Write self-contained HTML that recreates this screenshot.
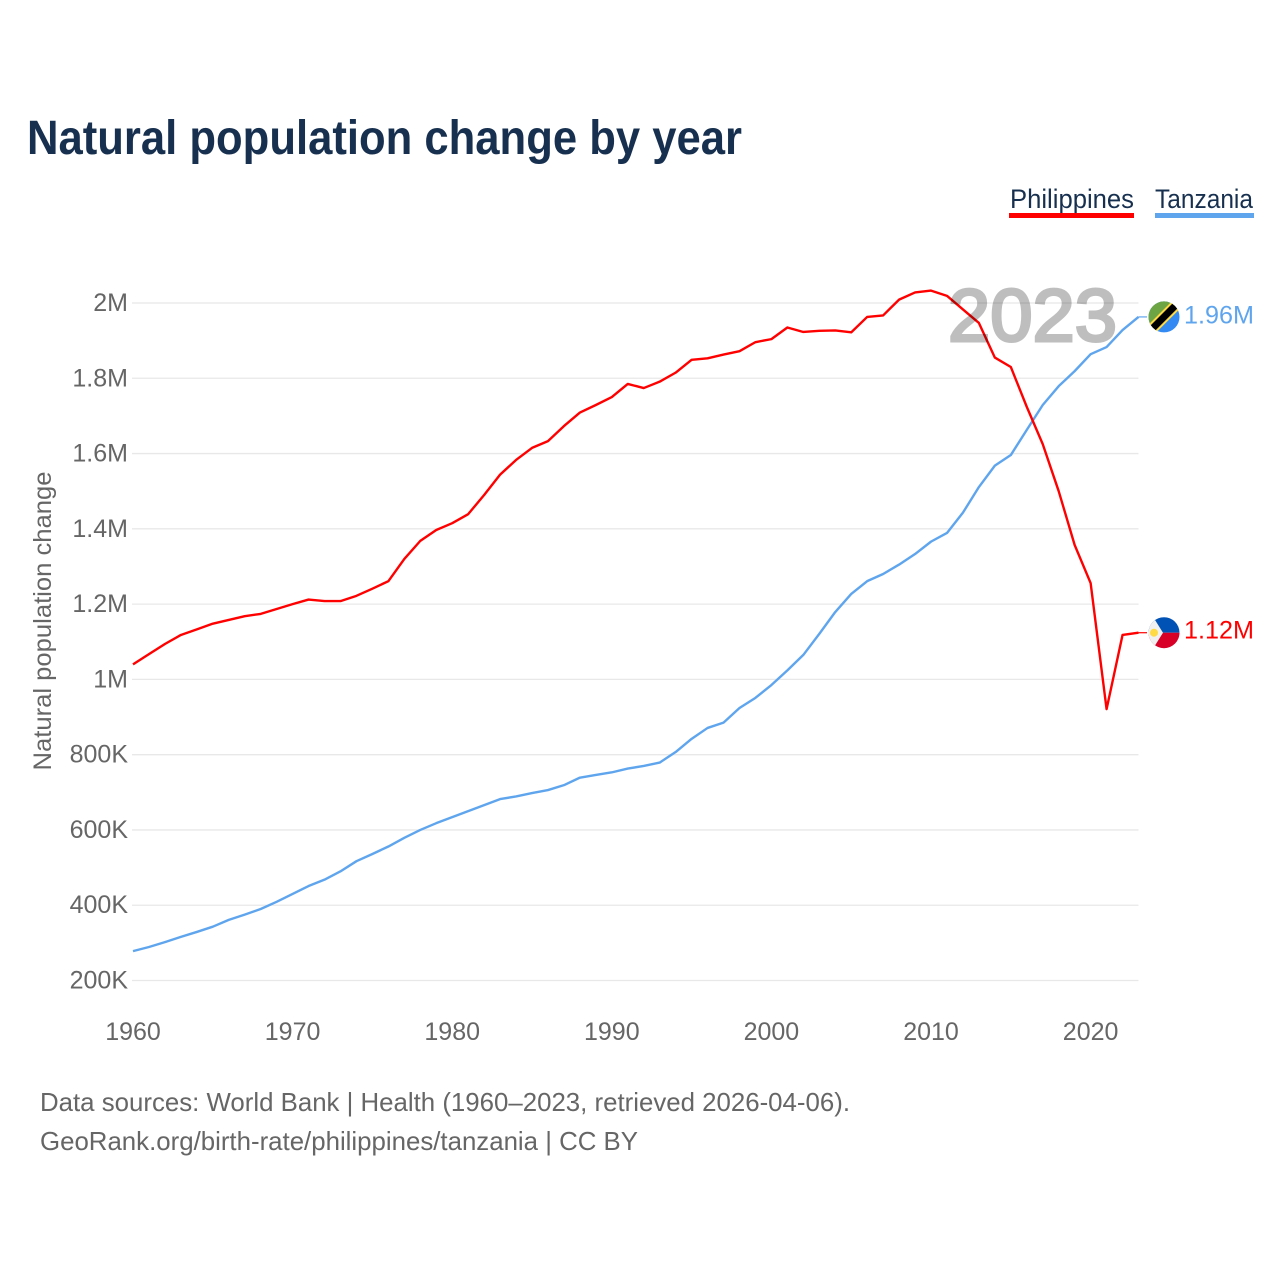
<!DOCTYPE html>
<html lang="en">
<head>
<meta charset="utf-8">
<title>Natural population change by year</title>
<style>
html,body{margin:0;padding:0;background:#fff;}
svg{display:block;font-family:"Liberation Sans",sans-serif;}
</style>
</head>
<body>
<svg id="chart" xmlns="http://www.w3.org/2000/svg" width="1280" height="1280" viewBox="0 0 1280 1280">
  <defs>
    <clipPath id="flag-clip"><circle cx="0" cy="0" r="15.5"></circle></clipPath>
  </defs>
  <rect x="0" y="0" width="1280" height="1280" fill="#ffffff"></rect>
  <text x="27" y="154" font-size="48" font-weight="700" fill="#17304f" textLength="715" lengthAdjust="spacingAndGlyphs">Natural population change by year</text>

  <g>
    <text x="1010" y="208" font-size="27" fill="#17304f" textLength="124" lengthAdjust="spacingAndGlyphs">Philippines</text>
    <rect x="1009" y="213" width="125" height="5" fill="#ff0000"></rect>
    <text x="1155" y="208" font-size="27" fill="#17304f" textLength="98" lengthAdjust="spacingAndGlyphs">Tanzania</text>
    <rect x="1155" y="213" width="99" height="5" fill="#5fa5ee"></rect>
  </g>

  <g id="grid"></g>
  <g id="yticks"></g>
  <g id="xticks"></g>
  <text transform="translate(51,621) rotate(-90)" text-anchor="middle" font-size="25" fill="#666666" textLength="299" lengthAdjust="spacingAndGlyphs">Natural population change</text>
  <g id="series"></g>
  <text x="948" y="341" font-size="74" font-weight="400" fill="#000000" stroke="#000000" stroke-width="3" opacity="0.25" textLength="169" lengthAdjust="spacingAndGlyphs">2023</text>
  <g id="ends"></g>

  <text x="40" y="1111" font-size="26" fill="#666666" textLength="810" lengthAdjust="spacingAndGlyphs">Data sources: World Bank | Health (1960–2023, retrieved 2026-04-06).</text>
  <text x="40" y="1150" font-size="26" fill="#666666" textLength="598" lengthAdjust="spacingAndGlyphs">GeoRank.org/birth-rate/philippines/tanzania | CC BY</text>
</svg>
<script>
const firstYear = 1960;
const lastYear = 2023;
const yTickValues = [200000, 400000, 600000, 800000, 1000000, 1200000, 1400000, 1600000, 1800000, 2000000];
const yTickLabels = ["200K", "400K", "600K", "800K", "1M", "1.2M", "1.4M", "1.6M", "1.8M", "2M"];
const xTickYears = [1960, 1970, 1980, 1990, 2000, 2010, 2020];
const philippinesValues = [1040,1067,1094,1118,1133,1148,1158,1168,1174,1187,1200,1212,1208,1208,1222,1241,1261,1320,1368,1397,1415,1439,1490,1544,1583,1615,1633,1673,1709,1729,1750,1785,1774,1791,1815,1849,1853,1863,1872,1896,1904,1935,1923,1926,1927,1922,1963,1967,2009,2028,2033,2019,1983,1947,1855,1830,1724,1625,1500,1357,1256,921,1118,1124];
const tanzaniaValues = [278,289,302,316,329,343,361,375,390,409,430,451,468,490,517,536,556,579,600,618,634,650,666,682,689,698,706,719,739,746,753,763,770,779,807,842,871,885,924,951,985,1024,1065,1121,1179,1227,1261,1280,1305,1333,1366,1389,1443,1511,1568,1596,1663,1729,1779,1819,1864,1883,1928,1963];
const philippinesEndLabel = "1.12M";
const tanzaniaEndLabel = "1.96M";

const NS = "http://www.w3.org/2000/svg";
const xLeft = 133, xRight = 1138.5, yBottom = 980.5, yTop = 303;
function xScale(year) {
  return xLeft + (year - firstYear) / (lastYear - firstYear) * (xRight - xLeft);
}
function yScale(value) {
  return yBottom - (value - 200000) / 1800000 * (yBottom - yTop);
}
function make(tag, attrs, parent) {
  const el = document.createElementNS(NS, tag);
  for (const k in attrs) el.setAttribute(k, attrs[k]);
  parent.appendChild(el);
  return el;
}

const grid = document.getElementById("grid");
const yticks = document.getElementById("yticks");
yTickValues.forEach(function (v, i) {
  const line = make("line", {x1: 132, x2: xRight, y1: yScale(v), y2: yScale(v), stroke: "#e8e8e8", "stroke-width": 1.3}, grid);
  
  
  const t = make("text", {x: 128, y: yScale(v) + 8, "text-anchor": "end", "font-size": 25, fill: "#666666"}, yticks);
  
  
  t.textContent = yTickLabels[i];
});

const xticks = document.getElementById("xticks");
xTickYears.forEach(function (yr) {
  const t = make("text", {x: xScale(yr), y: 1040, "text-anchor": "middle", "font-size": 25, fill: "#666666"}, xticks);
  
  
  t.textContent = String(yr);
});

const seriesGroup = document.getElementById("series");
const ends = document.getElementById("ends");

function linePath(values) {
  return values.map(function (v, i) {
    return (i ? "L" : "M") + xScale(firstYear + i).toFixed(2) + " " + yScale(v * 1000).toFixed(2);
  }).join(" ");
}

const tzLine = make("path", {d: linePath(tanzaniaValues), fill: "none", stroke: "#5fa5ee", "stroke-width": 2.4, "stroke-linejoin": "round"}, seriesGroup);


const phLine = make("path", {d: linePath(philippinesValues), fill: "none", stroke: "#ff0000", "stroke-width": 2.4, "stroke-linejoin": "round"}, seriesGroup);



const tzEndY = yScale(tanzaniaValues[tanzaniaValues.length - 1] * 1000);
const phEndY = yScale(philippinesValues[philippinesValues.length - 1] * 1000);

const tzTail = make("line", {x1: xRight, x2: 1147, y1: tzEndY, y2: tzEndY, stroke: "#5fa5ee", "stroke-width": 1.2}, ends);


const phTail = make("line", {x1: xRight, x2: 1147, y1: phEndY, y2: phEndY, stroke: "#ff0000", "stroke-width": 1.2}, ends);



const tzFlag = make("g", {transform: "translate(1164 " + tzEndY + ")", "clip-path": "url(#flag-clip)"}, ends);


make("rect", {x: -16, y: -16, width: 32, height: 32, fill: "#338af3"}, tzFlag);
make("polygon", {points: "-16,-16 16,-16 -16,16", fill: "#6da544"}, tzFlag);
make("line", {x1: -16, y1: 16, x2: 16, y2: -16, stroke: "#ffda44", "stroke-width": 11}, tzFlag);
make("line", {x1: -16, y1: 16, x2: 16, y2: -16, stroke: "#000000", "stroke-width": 7}, tzFlag);

const phFlag = make("g", {transform: "translate(1164 " + phEndY + ")", "clip-path": "url(#flag-clip)"}, ends);


make("rect", {x: -16, y: -16, width: 32, height: 16, fill: "#0052b4"}, phFlag);
make("rect", {x: -16, y: 0, width: 32, height: 16, fill: "#d80027"}, phFlag);
make("polygon", {points: "-16,-16 -11,-16 -1,0 -11,16 -16,16", fill: "#f0f0f0"}, phFlag);
make("circle", {cx: -10, cy: 0, r: 4, fill: "#ffda44"}, phFlag);

const tzLabel = make("text", {x: 1184, y: tzEndY + 6.5, "font-size": 25, fill: "#5fa5ee", textLength: 70, lengthAdjust: "spacingAndGlyphs"}, ends);


tzLabel.textContent = tanzaniaEndLabel;
const phLabel = make("text", {x: 1184, y: phEndY + 6, "font-size": 25, fill: "#ff0000", textLength: 70, lengthAdjust: "spacingAndGlyphs"}, ends);


phLabel.textContent = philippinesEndLabel;
</script>
</body>
</html>
